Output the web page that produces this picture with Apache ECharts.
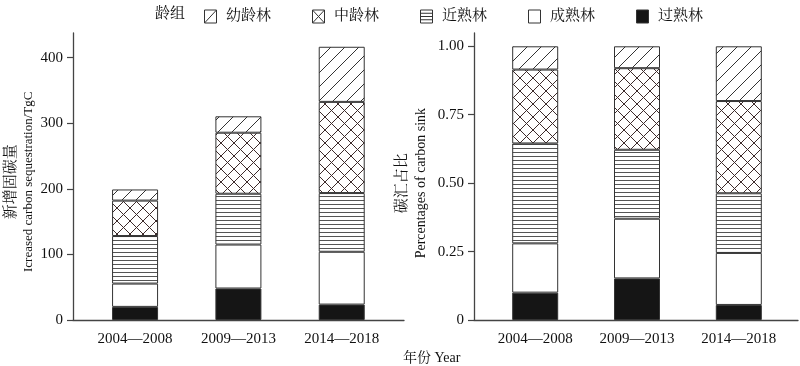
<!DOCTYPE html>
<html>
<head>
<meta charset="utf-8">
<script src="https://cdn.jsdelivr.net/npm/echarts@6/dist/echarts.min.js"></script>
<style>html,body{margin:0;padding:0;background:#fff;}#c{width:800px;height:366px;}</style>
</head>
<body>
<div id="c"></div>
<script>
// ---- data ----
const categories = ['2004—2008', '2009—2013', '2014—2018'];
const legendNames = ['幼龄林', '中龄林', '近熟林', '成熟林', '过熟林'];
// left panel: new carbon sequestration (TgC)
const youling = [17, 25, 84];
const zhongling = [54, 93, 139];
const jinshu = [72.5, 77.5, 89.5];
const chengshu = [35.5, 67, 80.5];
const guoshu = [20, 48, 23.5];
// right panel: share of carbon sink
const youlingPct = [0.085, 0.08, 0.20];
const zhonglingPct = [0.27, 0.298, 0.337];
const jinshuPct = [0.365, 0.252, 0.218];
const chengshuPct = [0.18, 0.218, 0.19];
const guoshuPct = [0.10, 0.152, 0.055];
// tick labels
const leftTickLabels = ['0', '100', '200', '300', '400'];
const rightTickLabels = ['0', '0.25', '0.50', '0.75', '1.00'];

// ---- patterns ----
function tile(w, h, draw) {
  const c = document.createElement('canvas');
  c.width = w; c.height = h;
  const g = c.getContext('2d');
  g.fillStyle = '#fff'; g.fillRect(0, 0, w, h);
  draw(g, w, h);
  return { image: c, repeat: 'repeat' };
}
const diagPattern = tile(14, 14, (g, w, h) => {
  g.strokeStyle = '#333'; g.lineWidth = 1;
  g.beginPath(); g.moveTo(-w, 2 * h); g.lineTo(2 * w, -h); g.stroke();
});
const crossPattern = tile(13, 13, (g, w, h) => {
  g.strokeStyle = '#3d2b2b'; g.lineWidth = 1;
  g.beginPath(); g.moveTo(-1, -1); g.lineTo(w + 1, h + 1); g.stroke();
  g.beginPath(); g.moveTo(w + 1, -1); g.lineTo(-1, h + 1); g.stroke();
});
const horizPattern = tile(4, 4, (g, w, h) => {
  g.strokeStyle = '#555'; g.lineWidth = 1;
  g.beginPath(); g.moveTo(0, 0.5); g.lineTo(w, 0.5); g.stroke();
});

const styles = {
  '幼龄林': diagPattern,
  '中龄林': crossPattern,
  '近熟林': horizPattern,
  '成熟林': '#ffffff',
  '过熟林': '#151515'
};

const SERIF = "'Liberation Serif', 'Noto Serif CJK SC', 'Noto Sans CJK SC', serif";
const AX = '#444';

function mkSeries(name, data, idx, stack) {
  return {
    name, type: 'bar', stack, data,
    xAxisIndex: idx, yAxisIndex: idx,
    barWidth: 46,
    clip: false,
    itemStyle: { color: styles[name], borderColor: '#333', borderWidth: 1 },
    emphasis: { disabled: true },
    animation: false
  };
}

const chart = echarts.init(document.getElementById('c'), null, { renderer: 'canvas' });

const frameAxis = (grid) => ({
  type: 'value', gridIndex: grid, min: 0, max: 1,
  axisLine: { show: true, lineStyle: { color: AX, width: 1.3 } },
  axisTick: { show: false }, axisLabel: { show: false }, splitLine: { show: false }
});

const catAxis = (grid) => ({
  type: 'category', gridIndex: grid, data: categories,
  axisLine: { show: false }, axisTick: { show: false },
  axisLabel: { fontSize: 15, fontFamily: SERIF, color: '#111', margin: 12 }
});

const legendIcons = {
  '幼龄林': 'path://M0,0H12V13H0Z M0,13L12,0',
  '中龄林': 'path://M0,0H12V13H0Z M0,0L12,13 M12,0L0,13',
  '近熟林': 'path://M0,0H12V13H0Z M0,3.25H12 M0,6.5H12 M0,9.75H12',
  '成熟林': 'path://M0,0H12V13H0Z',
  '过熟林': 'path://M0,0H12V13H0Z'
};

chart.setOption({
  animation: false,
  title: {
    text: '龄组', left: 150, top: 2,
    textStyle: { fontSize: 15, fontWeight: 'normal', fontFamily: SERIF, color: '#111' }
  },
  legend: {
    left: 199, top: 4, itemWidth: 13, itemHeight: 13, itemGap: 41,
    selectedMode: false,
    textStyle: { fontSize: 15, fontFamily: SERIF, color: '#111', padding: [0, 0, 0, 4] },
    data: legendNames.map(n => ({
      name: n,
      icon: legendIcons[n],
      itemStyle: { color: n === '过熟林' ? '#151515' : '#fff', borderColor: '#333', borderWidth: 1 }
    }))
  },
  grid: [
    { left: 83.4, top: 57.6, width: 310, height: 262.4 },
    { left: 73, top: 33, width: 331, height: 287 },
    { left: 484.3, top: 46.3, width: 305.4, height: 273.7 },
    { left: 474, top: 33, width: 324, height: 287 }
  ],
  xAxis: [catAxis(0), frameAxis(1), catAxis(2), frameAxis(3)],
  yAxis: [
    {
      type: 'value', gridIndex: 0, min: 0, max: 400, interval: 100, offset: 10.4,
      axisLine: { show: false },
      axisTick: { show: true, length: 6, lineStyle: { color: AX, width: 1.2 } },
      axisLabel: { fontSize: 15, fontFamily: SERIF, color: '#111', margin: 10,
        formatter: v => leftTickLabels[Math.round(v / 100)] },
      splitLine: { show: false },
      name: '{cn|新增固碳量}\n{en|Icreased carbon sequestration/TgC}',
      nameLocation: 'middle', nameRotate: 90, nameGap: 36,
      nameTextStyle: {
        padding: [0, 0, 0, 14],
        rich: {
          cn: { fontSize: 15, fontFamily: SERIF, color: '#111', lineHeight: 17 },
          en: { fontSize: 13, fontFamily: SERIF, color: '#111', lineHeight: 17 }
        }
      }
    },
    frameAxis(1),
    {
      type: 'value', gridIndex: 2, min: 0, max: 1, interval: 0.25, offset: 10.3,
      axisLine: { show: false },
      axisTick: { show: true, length: 6, lineStyle: { color: AX, width: 1.2 } },
      axisLabel: { fontSize: 15, fontFamily: SERIF, color: '#111', margin: 10,
        formatter: v => rightTickLabels[Math.round(v / 0.25)] },
      splitLine: { show: false },
      name: '{cn|碳汇占比}\n{en|Percentages of carbon sink}',
      nameLocation: 'middle', nameRotate: 90, nameGap: 43,
      nameTextStyle: {
        rich: {
          cn: { fontSize: 15, fontFamily: SERIF, color: '#111', lineHeight: 19 },
          en: { fontSize: 14, fontFamily: SERIF, color: '#111', lineHeight: 19 }
        }
      }
    },
    frameAxis(3)
  ],
  graphic: [
    { type: 'text', left: 403, top: 351,
      style: { text: '年份 Year', fontSize: 14, fontFamily: SERIF, fill: '#111' } }
  ],
  series: [
    mkSeries('过熟林', guoshu, 0, 'L'),
    mkSeries('成熟林', chengshu, 0, 'L'),
    mkSeries('近熟林', jinshu, 0, 'L'),
    mkSeries('中龄林', zhongling, 0, 'L'),
    mkSeries('幼龄林', youling, 0, 'L'),
    mkSeries('过熟林', guoshuPct, 2, 'R'),
    mkSeries('成熟林', chengshuPct, 2, 'R'),
    mkSeries('近熟林', jinshuPct, 2, 'R'),
    mkSeries('中龄林', zhonglingPct, 2, 'R'),
    mkSeries('幼龄林', youlingPct, 2, 'R')
  ]
});
</script>
</body>
</html>
